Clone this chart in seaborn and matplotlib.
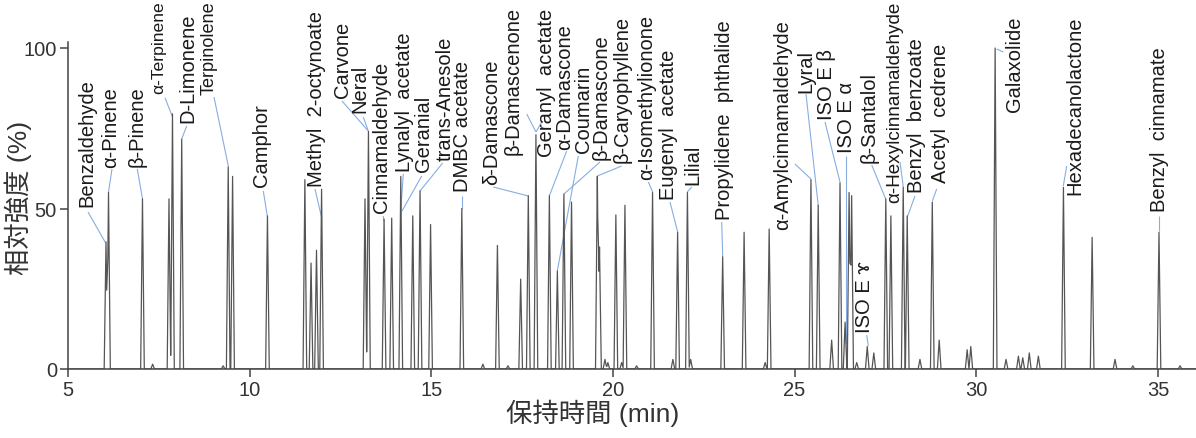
import numpy as np
import pandas as pd
import matplotlib
matplotlib.use("Agg")
import matplotlib.pyplot as plt
import seaborn as sns

# ---------------- data ----------------
# retention time (min) of every visible peak
peak_times = [6.046, 6.115, 7.05, 7.33, 7.78, 7.876, 8.13, 9.27, 9.41, 9.53, 10.49,
              11.52, 11.69, 11.84, 11.98, 13.175, 13.27, 13.70, 13.91, 14.16, 14.49,
              14.69, 14.98, 15.84, 16.42, 16.82, 17.11, 17.46, 17.67, 17.88, 18.25,
              18.47, 18.65, 18.86, 19.57, 19.63, 19.78, 19.86, 20.08, 20.24, 20.33,
              20.65, 21.09, 21.65, 21.78, 22.05, 22.14, 23.02, 23.61, 24.19, 24.30,
              25.45, 25.65, 26.02, 26.25, 26.39, 26.50, 26.57, 26.71, 27.00, 27.18,
              27.51, 27.65, 27.99, 28.10, 28.45, 28.79, 28.98, 29.75, 29.85, 30.52,
              30.82, 31.16, 31.28, 31.46, 31.71, 32.40, 33.19, 33.82, 34.31, 35.03, 35.61]
# relative intensity (%) of those peaks
peak_heights = [39.6, 55, 53, 1.5, 53, 79.5, 71.6, 1, 63, 60, 47.7,
                59, 33, 37, 56, 53, 74, 46.7, 47, 60, 47.7,
                55.5, 45, 50, 1.5, 38.5, 1, 28, 54, 73, 54,
                30.5, 54.5, 52, 60, 38, 3, 2, 48, 2, 51,
                1, 55, 3, 42.6, 55, 3, 35, 42.6, 2, 43.6,
                59, 51, 9, 58, 14.6, 55, 54, 2, 7, 5,
                53, 47.7, 56.6, 47.7, 3, 52, 9, 6, 7, 100,
                3, 4, 3.5, 5, 4, 56.6, 41, 3, 1, 42.6, 1]

label_names = ["Benzaldehyde", "α-Pinene", "β-Pinene", "α-Terpinene", "D-Limonene",
               "Terpinolene", "Camphor", "Methyl  2-octynoate", "Carvone", "Neral",
               "Cinnamaldehyde", "Lynalyl  acetate", "Geranial", "trans-Anesole",
               "DMBC acetate", "δ-Damascone", "β-Damascenone", "Geranyl  acetate",
               "α-Damascone", "Coumarin", "β-Damascone", "β-Caryophyllene",
               "α-Isomethylionone", "Eugenyl  acetate", "Lilial", "Propylidene  phthalide",
               "α-Amylcinnamaldehyde", "Lyral", "ISO E β", "ISO E α", "ISO E ɤ",
               "β-Santalol", "α-Hexylcinnamaldehyde", "Benzyl  benzoate", "Acetyl  cedrene",
               "Galaxolide", "Hexadecanolactone", "Benzyl  cinnamate"]

x_ticks = [5, 10, 15, 20, 25, 30, 35]
y_ticks = [0, 50, 100]
x_label = "保持時間 (min)"
y_label = "相対強度 (%)"

# ---------------- layout (image pixel positions of the labels) ----------------
# text centre x, text bottom y, leader start (x, y), leader end (x, y)
label_text_x = [86.7, 110.3, 136.7, 159, 187.5, 209, 261.7, 316, 342.5, 360, 381.7, 405, 423,
                445.5, 462.5, 491.7, 513.3, 546.7, 565, 583, 601, 621.7, 647, 668.3, 693, 725,
                783, 806, 826.7, 846.7, 864, 869, 895, 916.7, 940, 1014, 1075, 1159]
label_text_y = [207, 168, 167, 85, 123, 95, 187, 187, 98, 113, 213, 172, 172,
                161, 192, 185, 155, 157, 150, 153, 160, 163, 180, 200, 185, 220,
                230, 93, 120, 153, 333, 163, 203, 193, 183, 112, 195, 212]
leader_x0 = [88, 112, 137.3, 165, 186.7, 214, 263.3, 315, 342, 363.3, 383.3, 403.3, 421.7,
             442.7, 461.7, 493.3, 526.7, 541.7, 566.7, 578.3, 600, 621.7, 648.3, 670, 691.7, 721.7,
             795, 806, 825, 846, 866.7, 871.7, 900, 915, 936.7, 1003.3, 1066.7, 1159]
leader_y0 = [213, 170, 170, 90, 127, 98, 192, 190, 102, 118, 217, 175, 177,
             164, 197, 188, 115, 123, 152, 157, 163, 167, 183, 203, 188, 223,
             165, 95, 123, 157, 336, 166, 163, 197, 190, 53, 167, 217]
leader_x1 = [105.7, 108.5, 142.5, 172.5, 181.7, 228.3, 267.3, 321.5, 368.3, 368.3, 384, 400.7, 402,
             420, 461.7, 528.3, 536, 536, 549.3, 557.3, 564, 597.3, 652.7, 677.7, 687.3, 722.7,
             811, 818.3, 840, 846, 868.3, 885.7, 903.3, 907.3, 932.3, 996.7, 1063.3, 1159]
leader_y1 = [244, 193, 200, 118, 140, 167, 217, 218, 132, 132, 223, 213, 212,
             192, 210, 197, 133, 133, 197, 272, 195, 177, 193, 233, 193, 257,
             180, 207, 183, 345, 347, 200, 188, 218, 202, 50, 187, 232]

W, H, DPI = 1196, 439, 100
AX_LEFT, AX_BOTTOM_PX, AX_RIGHT = 68, 370, 1196
X_MIN, Y_MIN, Y_MAX = 5, 0, 102
PX_PER_MIN, PX_PER_PCT = 36.33, 3.21
HALF_WIDTH = 0.05          # peak half width at base (min)
LABEL_SIZE = 14.5
MIN_LABEL_SIZE = 12.6
TOP_MARGIN_PX = 1

LATIN = ["Liberation Sans", "DejaVu Sans", "Noto Sans CJK JP"]
CJK = ["Liberation Sans", "Noto Sans CJK JP"]
TEXT_COLOR = "#1a1a1a"
TRACE_COLOR = "#555555"
LEADER_COLOR = "#86aee0"

sns.set_theme(style="ticks")
plt.rcParams["font.family"] = LATIN
plt.rcParams["axes.unicode_minus"] = False

# ---------------- build trace from the peak table ----------------
t_arr = np.asarray(peak_times)
h_arr = np.asarray(peak_heights)
x_max = X_MIN + (AX_RIGHT - AX_LEFT) / PX_PER_MIN
bp = np.unique(np.concatenate([[X_MIN, x_max], t_arr - HALF_WIDTH, t_arr, t_arr + HALF_WIDTH]))
tri = h_arr[None, :] * np.clip(1 - np.abs(bp[:, None] - t_arr[None, :]) / HALF_WIDTH, 0, None)
trace = pd.DataFrame({"t": bp, "v": tri.max(axis=1)})

fig = plt.figure(figsize=(W / DPI, H / DPI), dpi=DPI)
ax_h = (Y_MAX - Y_MIN) * PX_PER_PCT
ax = fig.add_axes([AX_LEFT / W, (H - AX_BOTTOM_PX) / H, (AX_RIGHT - AX_LEFT) / W, ax_h / H])

sns.lineplot(data=trace, x="t", y="v", sort=False, estimator=None, ax=ax,
             color=TRACE_COLOR, linewidth=0.9)

ax.set_xlim(X_MIN, x_max)
ax.set_ylim(Y_MIN, Y_MAX)
ax.set_xticks(x_ticks)
ax.set_yticks(y_ticks)
for s in ["top", "right"]:
    ax.spines[s].set_visible(False)
for s in ["left", "bottom"]:
    ax.spines[s].set_color("#444444")
    ax.spines[s].set_linewidth(1.1)
ax.tick_params(direction="out", length=6, width=1.1, colors="#444444",
               labelcolor="#333333", labelsize=14.5, pad=2)

ax.set_xlabel(x_label, fontsize=19, color="#333333", family=CJK)
ax.set_ylabel(y_label, fontsize=19, color="#333333", family=CJK)
ax.xaxis.set_label_coords((593 - AX_LEFT) / (AX_RIGHT - AX_LEFT), -(400 - AX_BOTTOM_PX) / ax_h)
ax.yaxis.set_label_coords((32 - AX_LEFT) / (AX_RIGHT - AX_LEFT), 0.525)

# pixel (image, top-left origin) -> data
fig.canvas.draw()
renderer = fig.canvas.get_renderer()
inv = ax.transData.inverted()
def px2data(px, py):
    return inv.transform((px, H - py))

for i, name in enumerate(label_names):
    tx, ty = px2data(label_text_x[i], label_text_y[i])
    txt = ax.text(tx, ty, name, rotation=90, ha="center", va="bottom", fontsize=LABEL_SIZE,
                  color=TEXT_COLOR, clip_on=False, family=LATIN)
    # shrink (down to a floor) labels that would run off the top of the figure
    for _ in range(3):
        bb = txt.get_window_extent(renderer)
        if bb.y1 <= H - TOP_MARGIN_PX or txt.get_fontsize() <= MIN_LABEL_SIZE:
            break
        avail = (H - TOP_MARGIN_PX) - bb.y0
        txt.set_fontsize(max(MIN_LABEL_SIZE, txt.get_fontsize() * avail / bb.height))
    # if it still overflows, slide it (and its leader start) down
    bb = txt.get_window_extent(renderer)
    shift = max(0.0, bb.y1 - (H - TOP_MARGIN_PX))
    if shift > 0:
        tx, ty = px2data(label_text_x[i], label_text_y[i] + shift)
        txt.set_position((tx, ty))
    a = px2data(leader_x0[i], leader_y0[i] + shift)
    b = px2data(leader_x1[i], leader_y1[i])
    ax.plot([a[0], b[0]], [a[1], b[1]], color=LEADER_COLOR, lw=0.8, clip_on=False,
            solid_capstyle="butt", zorder=1)

fig.savefig("out.png", dpi=DPI)
